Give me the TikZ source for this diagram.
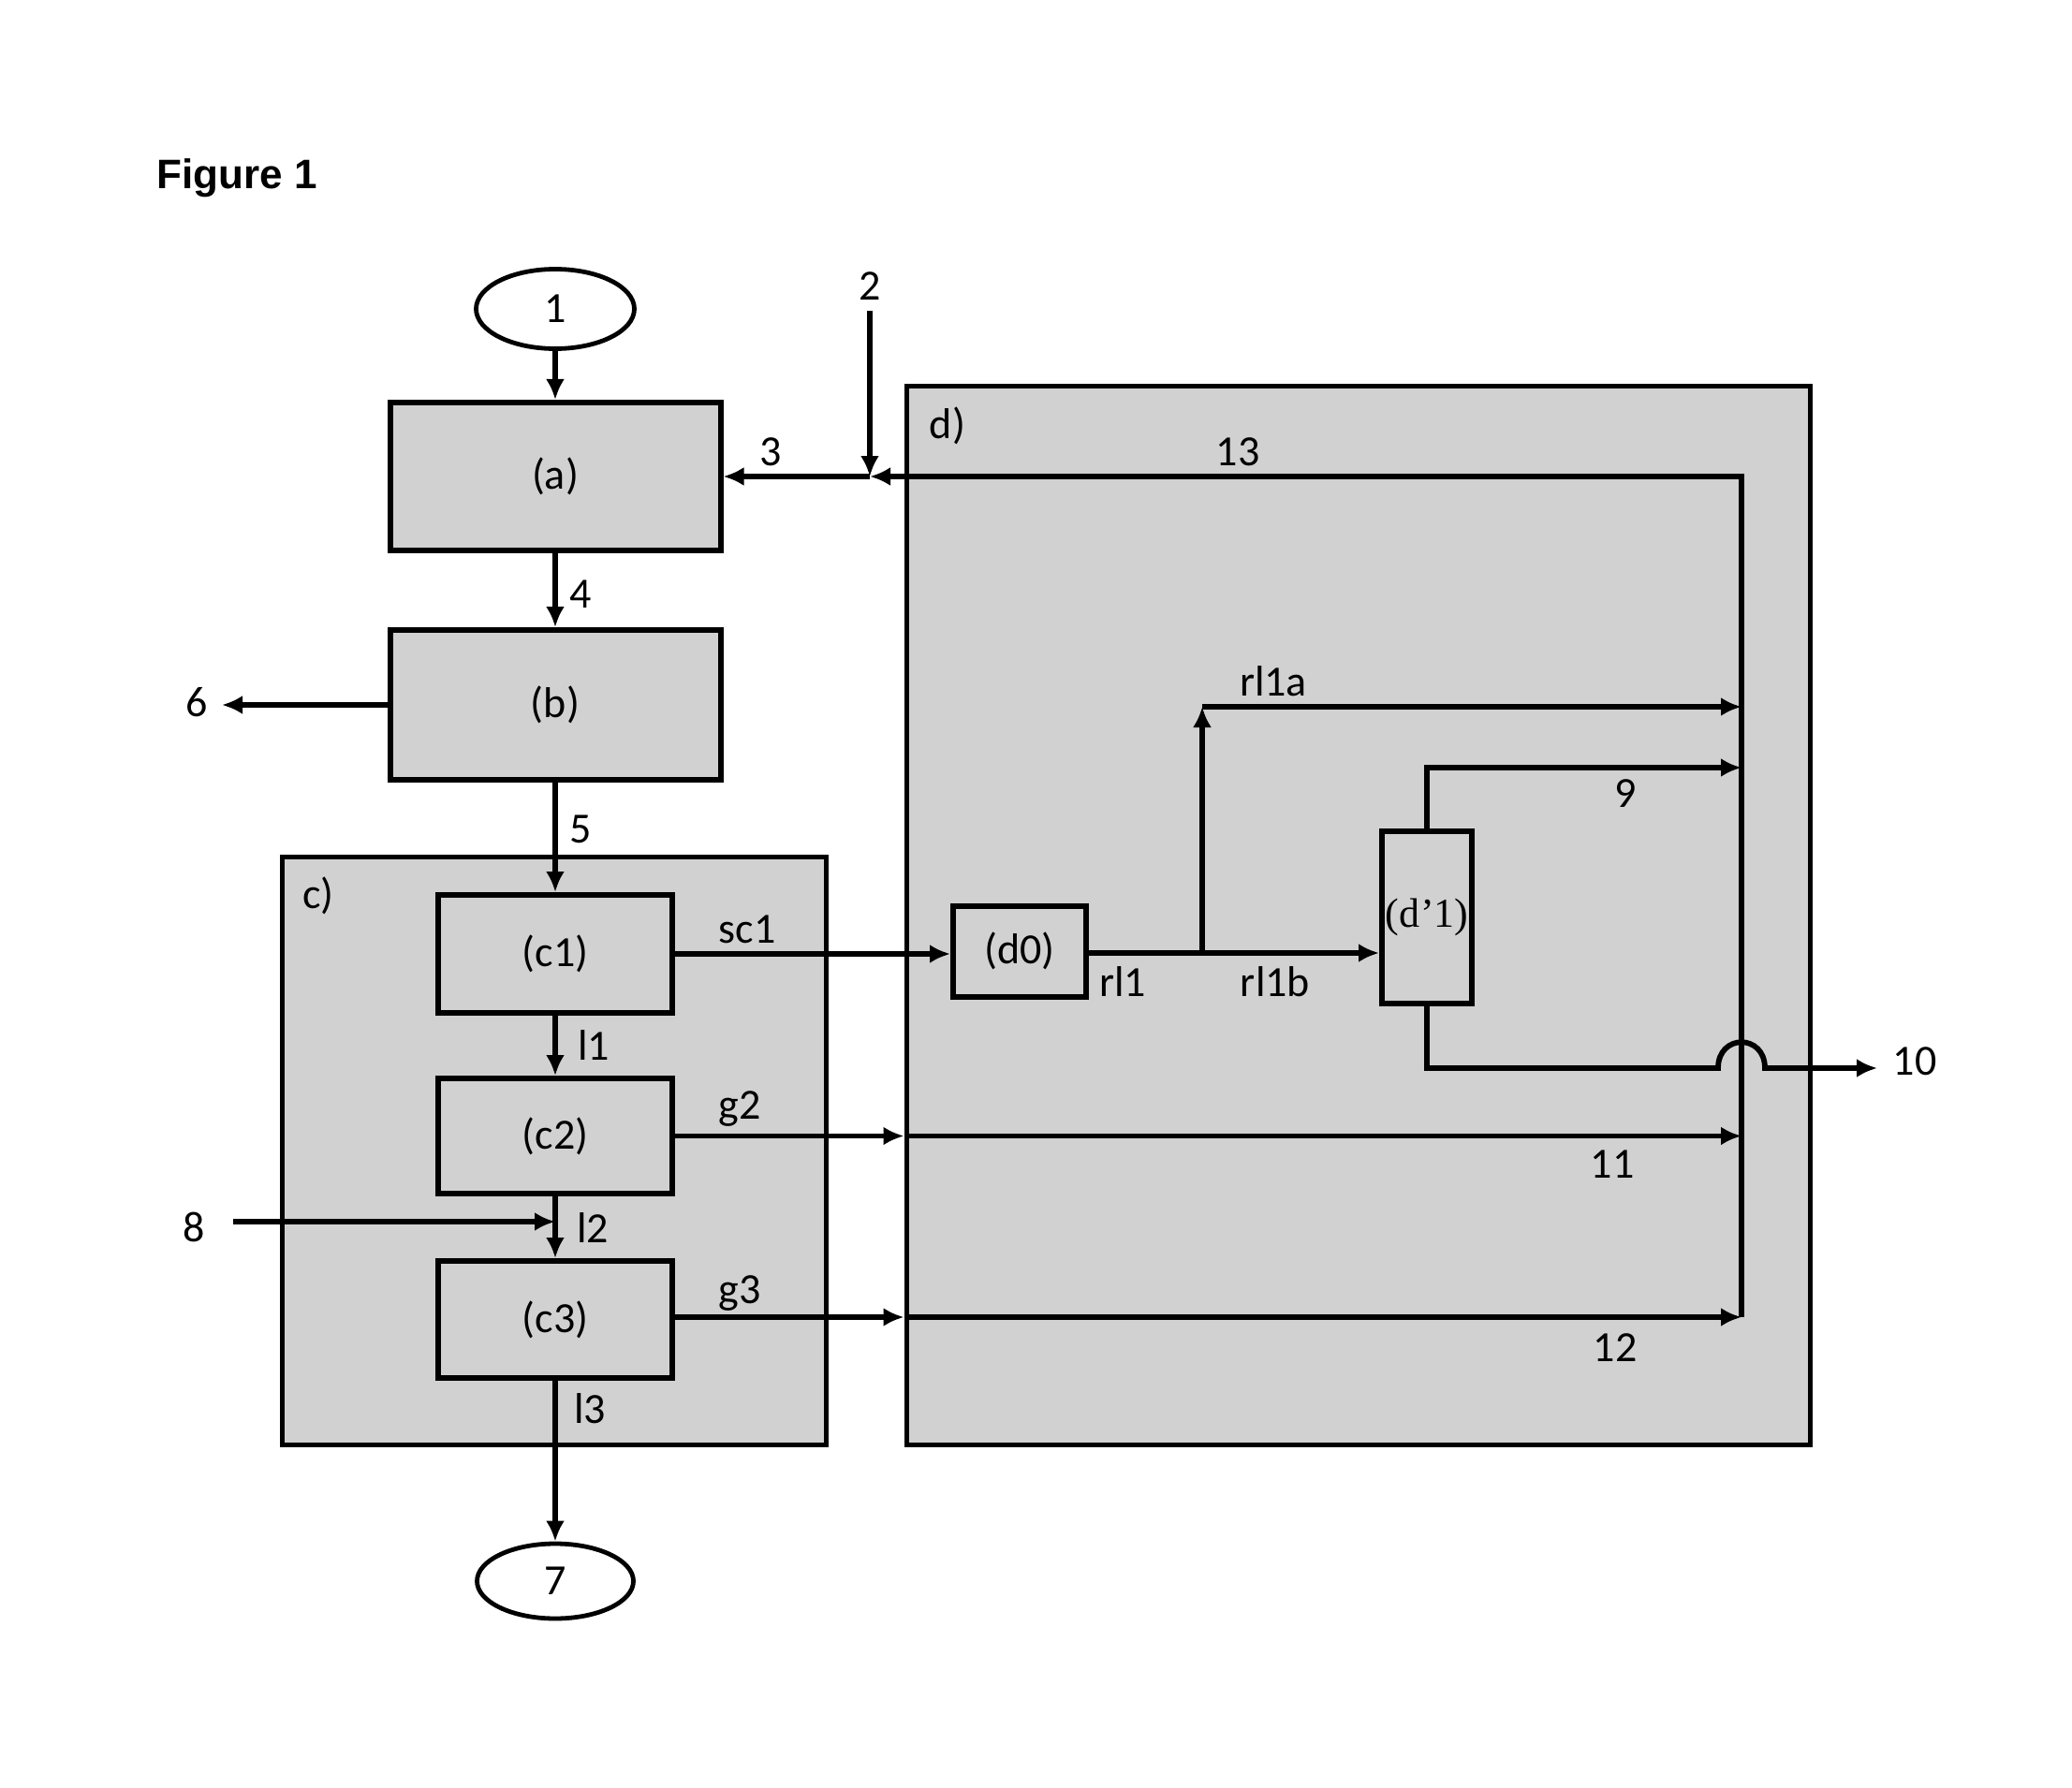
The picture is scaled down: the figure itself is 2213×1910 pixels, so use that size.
\documentclass[tikz,border=0pt]{standalone}
\usepackage{fontspec}
\setmainfont{Carlito}
\newfontfamily\figfont{Liberation Sans}
\newfontfamily\serfont{Liberation Serif}
\usetikzlibrary{arrows.meta,shapes.geometric,calc}
\definecolor{boxgray}{gray}{0.82}
\begin{document}
\begin{tikzpicture}[x=0.5pt,y=-0.5pt,
  grp/.style={draw, line width=2.5pt, fill=boxgray, inner sep=0pt, rectangle},
  box/.style={draw, line width=3pt, fill=boxgray, inner sep=0pt, rectangle,
              font=\fontsize{23}{26}\selectfont},
  oval/.style={draw, ellipse, line width=2.4pt, inner sep=0pt, fill=white,
              font=\fontsize{23}{26}\selectfont},
  pipe/.style={line width=2.9pt},
  flow/.style={line width=2.9pt, -{Latex[length=11pt,width=10pt]}},
  lbl/.style={font=\fontsize{23}{26}\selectfont, inner sep=0pt}]
\fill[white] (0,0) rectangle (2213,1910);
\useasboundingbox (0,0) rectangle (2213,1910);

% title
\node[font=\figfont\bfseries\fontsize{22}{26}\selectfont, anchor=west, inner sep=0pt] (title) at (167,190) {Figure 1};

% group boxes
\node[grp, minimum width=290.5pt, minimum height=314pt] (c) at (591.5,1229) {};
\node[grp, minimum width=482.5pt, minimum height=565pt] (d) at (1450.5,978) {};

% main nodes
\node[oval, minimum width=84.5pt, minimum height=42.5pt] (n1) at (593,330) {1};
\node[box, minimum width=176.5pt, minimum height=79pt] (a) at (593,509) {(a)};
\node[box, minimum width=176.5pt, minimum height=80pt] (b) at (593,753) {(b)};
\node[box, minimum width=125pt, minimum height=63pt] (c1) at (593,1019) {(c1)};
\node[box, minimum width=125pt, minimum height=61.5pt] (c2) at (593,1213.5) {(c2)};
\node[box, minimum width=125pt, minimum height=62.5pt] (c3) at (593,1409.5) {(c3)};
\node[oval, minimum width=83.5pt, minimum height=40pt] (n7) at (593,1689) {7};
\node[box, minimum width=71pt, minimum height=48.5pt] (d0) at (1089,1016) {(d0)};
\node[box, minimum width=48pt, minimum height=92pt, font=\serfont\fontsize{22}{24}\selectfont] (dp) at (1524,980) {(d\kern0.5pt’1)};

% coordinates
\coordinate (vtop) at (1860,509);
\coordinate (vbot) at (1860,1407);
\coordinate (J) at (929,509);
\coordinate (s2) at (929,332);
\coordinate (s6) at (237,753);
\coordinate (s8) at (249,1305);
\coordinate (m8) at (593,1305);
\coordinate (br) at (1284,1018);
\coordinate (ua) at (1284,755);
\coordinate (n9) at (1524,820);
\coordinate (h10) at (1524,1141);
\coordinate (hopa) at (1835,1141);
\coordinate (hopb) at (1885,1141);
\coordinate (o10) at (2005,1141);

% left column flows
\draw[flow] (n1) -- (a);
\draw[flow] (a) -- (b);
\draw[flow] (b.west) -- (s6);
\draw[flow] (b) -- (c1);
\draw[flow] (c1) -- (c2);
\draw[flow] (c2) -- (c3);
\draw[flow] (s8) -- (m8);
\draw[flow] (c3) -- (n7);

% stream 13 / 2 / 3
\draw[flow] (vbot) -- (vtop) -- (J);
\draw[flow] (J) -- (a.east);
\draw[flow] (s2) -- (J);

% sc1
\draw[flow] (c1.east) -- (c1.east -| d0.west);
% rl1
\draw[pipe] (d0.east |- br) -- (br);
\draw[flow] (br) -- (br -| dp.west);
\draw[flow] (br) -- (ua);
\draw[flow] (ua) -- (ua -| vtop);
% 9
\draw[flow] (dp.north) -- (n9) -- (n9 -| vtop);
% 10
\draw[flow] (dp.south) -- (h10) -- (hopa) .. controls (1835,1104) and (1885,1104) .. (hopb) -- (o10);
% g2 / 11
\draw[flow] (c2.east) -- (c2.east -| d.west);
\draw[flow] (c2.east -| d.west) -- (c2.east -| vtop);
% g3 / 12
\draw[flow] (c3.east |- vbot) -- (vbot -| d.west);
\draw[flow] (vbot -| d.west) -- (vbot);

% labels
\node[lbl] (l2) at (929,306) {2};
\node[lbl] (l3) at (823,483) {3};
\node[lbl] (l13) at (1322,483) {13};
\node[lbl] (ld) at (1012,455) {d)};
\node[lbl] (l4) at (620,635) {4};
\node[lbl] (l6) at (210,750) {6};
\node[lbl] (l5) at (620,886) {5};
\node[lbl] (lc) at (340,957) {c)};
\node[lbl] (lsc1) at (798,993) {sc1};
\node[lbl] (ll1) at (634,1117) {l1};
\node[lbl] (lg2) at (790,1185) {g2};
\node[lbl] (l8) at (207,1311) {8};
\node[lbl] (ll2) at (633,1312) {l2};
\node[lbl] (lg3) at (790,1382) {g3};
\node[lbl] (ll3) at (630,1505) {l3};
\node[lbl] (lrl1a) at (1360,728) {rl1a};
\node[lbl] (l9) at (1736,848) {9};
\node[lbl] (lrl1) at (1199,1049) {rl1};
\node[lbl] (lrl1b) at (1362,1049) {rl1b};
\node[lbl] (l10) at (2045,1134) {10};
\node[lbl] (l11) at (1722,1244) {11};
\node[lbl] (l12) at (1725,1440) {12};
\end{tikzpicture}
\end{document}
